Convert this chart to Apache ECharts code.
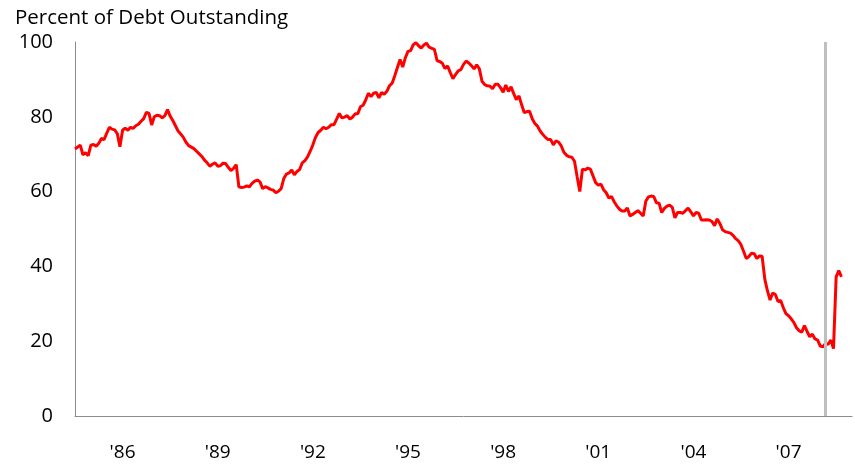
<!DOCTYPE html>
<html>
<head>
<meta charset="utf-8">
<script src="https://cdn.jsdelivr.net/npm/echarts@6/dist/echarts.min.js"></script>
<style>
  html, body { margin: 0; padding: 0; background: #ffffff; }
  #chart { width: 855px; height: 470px; }
</style>
</head>
<body>
<div id="chart"></div>
<script>
// Monthly share of debt outstanding (percent), Jan 1985 onward
const shareOfDebt = [
  71.4, 71.9, 72.4, 69.8, 70.4, 69.6, 72.4, 72.6, 72.1, 72.9,
  74.2, 73.9, 75.6, 77.2, 76.7, 76.5, 75.5, 72.0, 76.4, 77.0,
  76.4, 77.2, 76.9, 77.6, 78.0, 78.8, 79.5, 81.2, 80.9, 77.8,
  80.0, 80.4, 80.3, 79.7, 80.3, 81.9, 80.2, 79.0, 77.6, 76.2,
  75.4, 74.5, 73.2, 72.3, 71.9, 71.5, 70.8, 70.1, 69.4, 68.4,
  67.7, 66.8, 67.3, 67.7, 66.8, 66.9, 67.6, 67.5, 66.5, 65.6,
  66.2, 67.2, 61.3, 61.1, 61.2, 61.5, 61.3, 62.2, 62.8, 63.1,
  62.6, 60.8, 61.3, 61.0, 60.6, 60.4, 59.7, 60.1, 60.8, 63.5,
  64.7, 65.0, 65.8, 64.5, 65.4, 65.9, 67.7, 68.3, 69.3, 70.8,
  72.5, 74.5, 75.8, 76.4, 77.2, 76.8, 77.2, 77.9, 77.9, 79.4,
  80.9, 79.7, 79.9, 80.3, 79.4, 79.9, 80.8, 80.8, 82.7, 83.1,
  84.5, 86.3, 85.4, 86.3, 86.5, 85.1, 86.5, 86.0, 86.8, 88.3,
  89.0, 91.0, 93.2, 95.3, 93.3, 95.8, 97.5, 97.7, 99.3, 99.8,
  99.0, 98.4, 99.2, 99.7, 98.6, 98.3, 98.0, 95.0, 94.8, 94.3,
  92.9, 93.6, 91.8, 90.2, 91.3, 92.3, 92.6, 94.0, 94.9, 94.4,
  93.7, 92.8, 93.9, 92.8, 89.5, 88.6, 88.3, 88.2, 87.5, 88.7,
  88.7, 87.8, 86.6, 88.5, 86.8, 88.0, 86.2, 84.6, 85.6, 83.2,
  81.1, 81.4, 81.5, 79.5, 78.2, 77.5, 76.2, 75.3, 74.5, 73.9,
  73.9, 72.5, 73.6, 73.2, 72.2, 70.5, 69.7, 69.3, 69.2, 68.1,
  64.0, 60.0, 66.0, 65.8, 66.3, 66.0, 64.2, 62.4, 61.7, 62.0,
  60.5, 59.7, 58.3, 58.7, 57.3, 56.2, 55.3, 54.8, 54.8, 55.6,
  53.5, 53.9, 54.4, 54.9, 54.2, 53.5, 57.5, 58.6, 58.8, 58.7,
  57.0, 56.9, 54.4, 55.5, 56.1, 56.4, 55.8, 53.0, 54.4, 54.4,
  54.2, 54.9, 55.6, 54.6, 53.5, 54.4, 54.2, 52.4, 52.4, 52.5,
  52.4, 52.0, 50.9, 52.7, 51.5, 49.8, 49.3, 49.1, 48.9, 48.3,
  47.4, 46.8, 45.8, 44.0, 42.1, 42.7, 43.5, 43.4, 42.1, 42.8,
  42.7, 36.6, 33.5, 31.0, 32.9, 32.5, 30.6, 30.9, 29.0, 27.4,
  26.8, 26.0, 25.0, 23.6, 22.8, 22.4, 24.2, 22.6, 21.2, 21.9,
  20.6, 20.3, 18.7, 18.5, 19.4, 19.2, 20.3, 18.0, 37.2, 38.9, 37.2
];

// Month axis: Jan 1985 through Jul 2009
const firstYear = 1985;
const axisMonths = 295;
const months = [];
for (let i = 0; i < axisMonths; i++) {
  const y = firstYear + Math.floor(i / 12);
  const m = (i % 12) + 1;
  months.push(y + '-' + (m < 10 ? '0' + m : m));
}

// Year labels placed mid-year
const tickMonths = ['1986-07', '1989-07', '1992-07', '1995-07', '1998-07', '2001-07', '2004-07', '2007-07'];
const tickLabels = ["'86", "'89", "'92", "'95", "'98", "'01", "'04", "'07"];

const yTicks = [0, 20, 40, 60, 80, 100];
const eventMonth = '2008-09';

const font = "'Open Sans', 'Noto Sans', sans-serif";
const chart = echarts.init(document.getElementById('chart'), null, { renderer: 'canvas' });

chart.setOption({
  animation: false,
  backgroundColor: '#ffffff',
  title: {
    text: 'Percent of Debt Outstanding',
    left: 10,
    top: 3,
    textStyle: { fontFamily: font, fontSize: 20.5, fontWeight: 'normal', color: '#000000' }
  },
  grid: { left: 75, right: 3, top: 42, bottom: 54, containLabel: false },
  xAxis: {
    type: 'category',
    data: months,
    boundaryGap: false,
    axisLine: { show: true, lineStyle: { color: '#8c8c8c', width: 1 } },
    axisTick: { show: false },
    splitLine: { show: false },
    axisLabel: {
      interval: (index, value) => tickMonths.indexOf(value) >= 0,
      formatter: (value) => tickLabels[tickMonths.indexOf(value)],
      margin: 27,
      fontFamily: font,
      fontSize: 19,
      color: '#000000'
    }
  },
  yAxis: {
    type: 'value',
    min: yTicks[0],
    max: yTicks[yTicks.length - 1],
    interval: yTicks[1] - yTicks[0],
    axisLine: { show: true, lineStyle: { color: '#8c8c8c', width: 1 } },
    axisTick: { show: false },
    splitLine: { show: false },
    axisLabel: { margin: 22, fontFamily: font, fontSize: 20, color: '#000000' }
  },
  series: [{
    type: 'line',
    data: shareOfDebt,
    showSymbol: false,
    symbol: 'none',
    lineStyle: { color: '#ff0000', width: 3 },
    z: 3,
    markLine: {
      silent: true,
      symbol: 'none',
      label: { show: false },
      lineStyle: { color: '#bfbfbf', width: 3, type: 'solid' },
      data: [{ xAxis: eventMonth }]
    }
  }]
});
</script>
</body>
</html>
